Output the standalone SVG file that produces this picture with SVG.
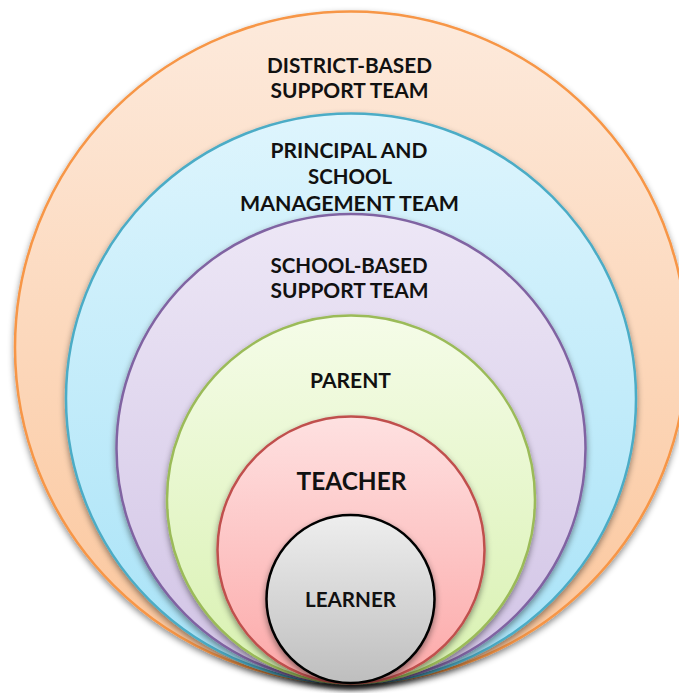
<svg xmlns="http://www.w3.org/2000/svg" width="679" height="693" viewBox="0 0 679 693">
  <defs>
    <linearGradient id="gOrange" x1="0" y1="0" x2="0" y2="1">
      <stop offset="0" stop-color="#FDEADC"/>
      <stop offset="1" stop-color="#FBC59A"/>
    </linearGradient>
    <linearGradient id="gBlue" x1="0" y1="0" x2="0" y2="1">
      <stop offset="0" stop-color="#DEF5FD"/>
      <stop offset="1" stop-color="#A6E2F7"/>
    </linearGradient>
    <linearGradient id="gPurple" x1="0" y1="0" x2="0" y2="1">
      <stop offset="0" stop-color="#EDE7F6"/>
      <stop offset="1" stop-color="#D1C3E5"/>
    </linearGradient>
    <linearGradient id="gGreen" x1="0" y1="0" x2="0" y2="1">
      <stop offset="0" stop-color="#F5FCE8"/>
      <stop offset="1" stop-color="#D8F1B0"/>
    </linearGradient>
    <linearGradient id="gRed" x1="0" y1="0" x2="0" y2="1">
      <stop offset="0" stop-color="#FEE1E1"/>
      <stop offset="1" stop-color="#FCA8A8"/>
    </linearGradient>
    <linearGradient id="gGrey" x1="0" y1="0" x2="0" y2="1">
      <stop offset="0" stop-color="#EEEEEE"/>
      <stop offset="1" stop-color="#BEBEBE"/>
    </linearGradient>
    <filter id="shadow" x="-10%" y="-10%" width="120%" height="125%">
      <feDropShadow dx="0" dy="3" stdDeviation="3" flood-color="#000" flood-opacity="0.45"/>
    </filter>
  </defs>
  <style>
    .ring { stroke-width: 2.5; filter: url(#shadow); }
    .lbl { font-family: Lato, "Liberation Sans", Arial, sans-serif; font-weight: bold; font-size: 21px; fill: #111; text-anchor: middle; }
    .big { font-size: 25px; }
  </style>

  <g id="district">
    <circle class="ring" cx="351" cy="347.5" r="336" fill="url(#gOrange)" stroke="#F79646"/>
    <text class="lbl" x="349.5" y="73" textLength="165" lengthAdjust="spacingAndGlyphs">DISTRICT-BASED</text>
    <text class="lbl" x="349.5" y="98" textLength="158" lengthAdjust="spacingAndGlyphs">SUPPORT TEAM</text>
  </g>

  <g id="principal">
    <circle class="ring" cx="351" cy="398.5" r="285" fill="url(#gBlue)" stroke="#4BACC6"/>
    <text class="lbl" x="349" y="158" textLength="157" lengthAdjust="spacingAndGlyphs">PRINCIPAL AND</text>
    <text class="lbl" x="350" y="184" textLength="84" lengthAdjust="spacingAndGlyphs">SCHOOL</text>
    <text class="lbl" x="349.5" y="211" textLength="219" lengthAdjust="spacingAndGlyphs">MANAGEMENT TEAM</text>
  </g>

  <g id="school-based">
    <circle class="ring" cx="351" cy="448.5" r="234.5" fill="url(#gPurple)" stroke="#8064A2"/>
    <text class="lbl" x="349" y="273" textLength="157" lengthAdjust="spacingAndGlyphs">SCHOOL-BASED</text>
    <text class="lbl" x="349.5" y="298" textLength="158" lengthAdjust="spacingAndGlyphs">SUPPORT TEAM</text>
  </g>

  <g id="parent">
    <circle class="ring" cx="351" cy="499.5" r="184" fill="url(#gGreen)" stroke="#9BBB59"/>
    <text class="lbl" x="350.5" y="388" textLength="81" lengthAdjust="spacingAndGlyphs">PARENT</text>
  </g>

  <g id="teacher">
    <circle class="ring" cx="351" cy="550" r="133.5" fill="url(#gRed)" stroke="#C0504D"/>
    <text class="lbl big" x="351.5" y="490" textLength="110" lengthAdjust="spacingAndGlyphs">TEACHER</text>
  </g>

  <g id="learner">
    <circle class="ring" cx="350.5" cy="599" r="84" fill="url(#gGrey)" stroke="#000"/>
    <text class="lbl" x="350.5" y="607" textLength="91" lengthAdjust="spacingAndGlyphs">LEARNER</text>
  </g>

  <g id="connectors"/>
</svg>
